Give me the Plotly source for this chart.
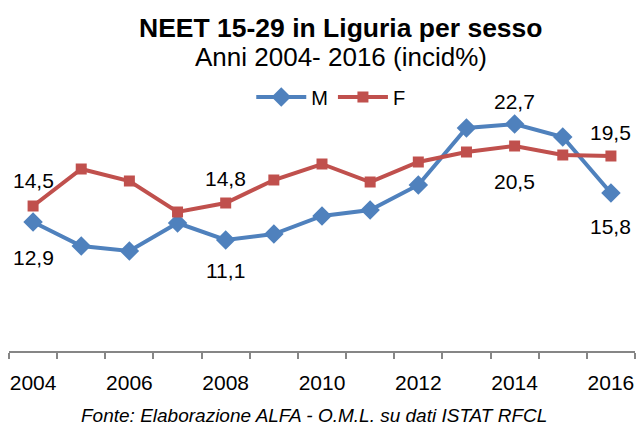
import plotly.graph_objects as go

years = list(range(2004, 2017))
m_values = [12.9, 10.5, 10.0, 12.8, 11.1, 11.7, 13.5, 14.1, 16.6, 22.3, 22.7, 21.4, 15.8]
f_values = [14.5, 18.2, 17.0, 13.9, 14.8, 17.1, 18.7, 16.9, 18.9, 19.9, 20.5, 19.6, 19.5]
tick_years = [2004, 2006, 2008, 2010, 2012, 2014, 2016]

# labelled points: (year, text, yshift)
labels_m = [(2004, "12,9", -35), (2008, "11,1", -30), (2014, "22,7", 23), (2016, "15,8", -33)]
labels_f = [(2004, "14,5", 26), (2008, "14,8", 25), (2014, "20,5", -35), (2016, "19,5", 24)]

FONT = "Liberation Sans, Arial, sans-serif"
BLUE = "#4F81BD"
RED = "#C0504D"

fig = go.Figure()
fig.add_trace(go.Scatter(x=years, y=m_values, name="M", mode="lines+markers",
                         line=dict(color=BLUE, width=4),
                         marker=dict(symbol="diamond", size=15, color=BLUE)))
fig.add_trace(go.Scatter(x=years, y=f_values, name="F", mode="lines+markers",
                         line=dict(color=RED, width=4),
                         marker=dict(symbol="square", size=11, color=RED)))

annotations = []
for yr, txt, sh in labels_m:
    annotations.append(dict(x=yr, y=m_values[years.index(yr)], text=txt, showarrow=False,
                            yshift=sh, yanchor="middle",
                            font=dict(size=21, color="#000000", family=FONT)))
for yr, txt, sh in labels_f:
    annotations.append(dict(x=yr, y=f_values[years.index(yr)], text=txt, showarrow=False,
                            yshift=sh, yanchor="middle",
                            font=dict(size=21, color="#000000", family=FONT)))

annotations.append(dict(xref="paper", yref="paper", x=0.53, y=1.0, yshift=73, yanchor="middle",
                        text="<b>NEET 15-29 in Liguria per sesso</b>",
                        showarrow=False, font=dict(size=26.5, color="#000000", family=FONT)))
annotations.append(dict(xref="paper", yref="paper", x=0.53, y=1.0, yshift=44, yanchor="middle",
                        text="Anni 2004- 2016 (incid%)",
                        showarrow=False, font=dict(size=26, color="#000000", family=FONT)))
annotations.append(dict(xref="paper", yref="paper", x=0.487, y=0.0, yshift=-64, yanchor="middle",
                        text="<i>Fonte: Elaborazione ALFA - O.M.L. su dati ISTAT RFCL</i>",
                        showarrow=False, font=dict(size=19, color="#000000", family=FONT)))

fig.update_layout(
    width=637, height=430,
    margin=dict(l=9, r=2, t=101, b=79),
    paper_bgcolor="white", plot_bgcolor="white",
    showlegend=True,
    legend=dict(orientation="h", x=0.514, xanchor="center", y=1.016, yanchor="middle",
                font=dict(size=20, color="#000000", family=FONT), bgcolor="rgba(0,0,0,0)",
                itemwidth=50),
    annotations=annotations,
    xaxis=dict(range=[2003.5, 2016.5], tickvals=tick_years, ticktext=[str(y) for y in tick_years],
               ticks="", showgrid=False, zeroline=False, showline=True, linecolor="#868686",
               linewidth=2, ticklabelstandoff=12,
               tickfont=dict(size=21, color="#000000", family=FONT),
               minor=dict(ticks="outside", tick0=2003.5, dtick=1, ticklen=6, tickcolor="#868686",
                          tickwidth=2, showgrid=False)),
    yaxis=dict(range=[0, 25], visible=False, fixedrange=True),
)

fig.write_html("out.html", config={"displayModeBar": False},
               post_script="document.body.style.margin='0';document.body.style.overflow='hidden';")
